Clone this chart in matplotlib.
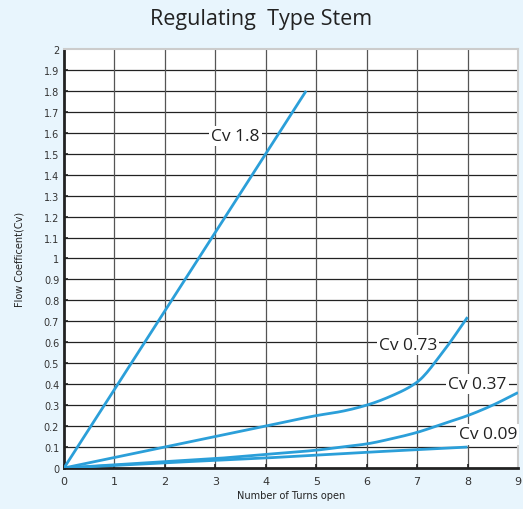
import matplotlib
matplotlib.use('Agg')
import matplotlib.pyplot as plt
import numpy as np

BG = "#e8f5fd"
BLUE = "#2b9fd9"

# curves
cv18_x = [0, 4.8]
cv18_y = [0, 1.8]

cv073_x = [0, 1, 2, 3, 4, 5, 5.5, 6, 6.5, 7, 7.5, 8]
cv073_y = [0, 0.05, 0.10, 0.15, 0.20, 0.25, 0.27, 0.30, 0.345, 0.41, 0.55, 0.72]

cv037_x = [0, 1, 2, 3, 4, 5, 5.5, 6, 6.5, 7, 7.5, 8, 8.5, 9]
cv037_y = [0, 0.015, 0.03, 0.045, 0.065, 0.085, 0.10, 0.115, 0.14, 0.17, 0.21, 0.25, 0.30, 0.36]

cv009_x = [0, 2, 4, 6, 8]
cv009_y = [0, 0.025, 0.048, 0.075, 0.10]

labels = ["Cv 1.8", "Cv 0.73", "Cv 0.37", "Cv 0.09"]
label_pos = [(3.4, 1.585), (6.82, 0.587), (8.2, 0.40), (8.4, 0.16)]


def pchip(xs, ys, n=200):
    # monotone cubic (Fritsch-Carlson) through the read points
    x = np.asarray(xs, float)
    y = np.asarray(ys, float)
    h = np.diff(x)
    d = np.diff(y) / h
    m = np.zeros_like(y)
    m[0], m[-1] = d[0], d[-1]
    for i in range(1, len(x) - 1):
        if d[i - 1] * d[i] > 0:
            w1 = 2 * h[i] + h[i - 1]
            w2 = h[i] + 2 * h[i - 1]
            m[i] = (w1 + w2) / (w1 / d[i - 1] + w2 / d[i])
    xx = np.linspace(x[0], x[-1], n)
    idx = np.clip(np.searchsorted(x, xx) - 1, 0, len(x) - 2)
    t = (xx - x[idx]) / h[idx]
    h00 = 2 * t**3 - 3 * t**2 + 1
    h10 = t**3 - 2 * t**2 + t
    h01 = -2 * t**3 + 3 * t**2
    h11 = t**3 - t**2
    yy = h00 * y[idx] + h10 * h[idx] * m[idx] + h01 * y[idx + 1] + h11 * h[idx] * m[idx + 1]
    return xx, yy


fig = plt.figure(figsize=(5.23, 5.10), dpi=100)
fig.patch.set_facecolor(BG)
ax = fig.add_axes([0.1224, 0.0804, 0.868, 0.8216])
ax.set_facecolor('white')

for xs, ys in [(cv18_x, cv18_y), (cv073_x, cv073_y), (cv037_x, cv037_y), (cv009_x, cv009_y)]:
    if len(xs) > 2:
        xx, yy = pchip(xs, ys)
        ax.plot(xx, yy, color=BLUE, lw=2.0, solid_capstyle='butt', zorder=3)
    else:
        ax.plot(xs, ys, color=BLUE, lw=2.0, solid_capstyle='butt', zorder=3)

for txt, (lx, ly) in zip(labels, label_pos):
    ax.text(lx, ly, txt, ha='center', va='center', fontsize=12.5, color='#222222',
            family='Open Sans',
            bbox=dict(boxstyle='square,pad=0.12', facecolor='white', edgecolor='none'),
            zorder=4)

ax.set_xlim(0, 9)
ax.set_ylim(0, 2)
ax.set_xticks(np.arange(0, 10, 1))
ax.set_yticks(np.arange(0, 2.01, 0.1))
ax.set_yticklabels(['0' if v == 0 else ('%g' % round(v, 1)) for v in np.arange(0, 2.01, 0.1)])
ax.tick_params(axis='both', direction='in', length=3, width=1.2, color='#222222',
               labelsize=7, labelcolor='#333333')
ax.tick_params(axis='x', pad=6, labelsize=8)

for v in np.arange(0.1, 2.0, 0.1):
    ax.axhline(v, color='#222222', lw=0.9, zorder=1)
for v in range(1, 9):
    ax.axvline(v, color='#555555', lw=0.9, zorder=1)

ax.spines['left'].set_linewidth(2)
ax.spines['bottom'].set_linewidth(2)
ax.spines['left'].set_color('#222222')
ax.spines['bottom'].set_color('#222222')
ax.spines['top'].set_color('#cccccc')
ax.spines['right'].set_color('#cccccc')
ax.spines['top'].set_linewidth(1.5)
ax.spines['right'].set_linewidth(1.5)

ax.set_xlabel("Number of Turns open", fontsize=7, color='#222222', labelpad=3)
ax.set_ylabel("Flow Coefficent(Cv)", fontsize=7, color='#222222', labelpad=14)

fig.text(0.5, 0.962, "Regulating  Type Stem", ha='center', va='center', fontsize=15.5,
         color='#222222', family='Open Sans')

plt.savefig("out.png", dpi=100, facecolor=BG)
plt.close()
